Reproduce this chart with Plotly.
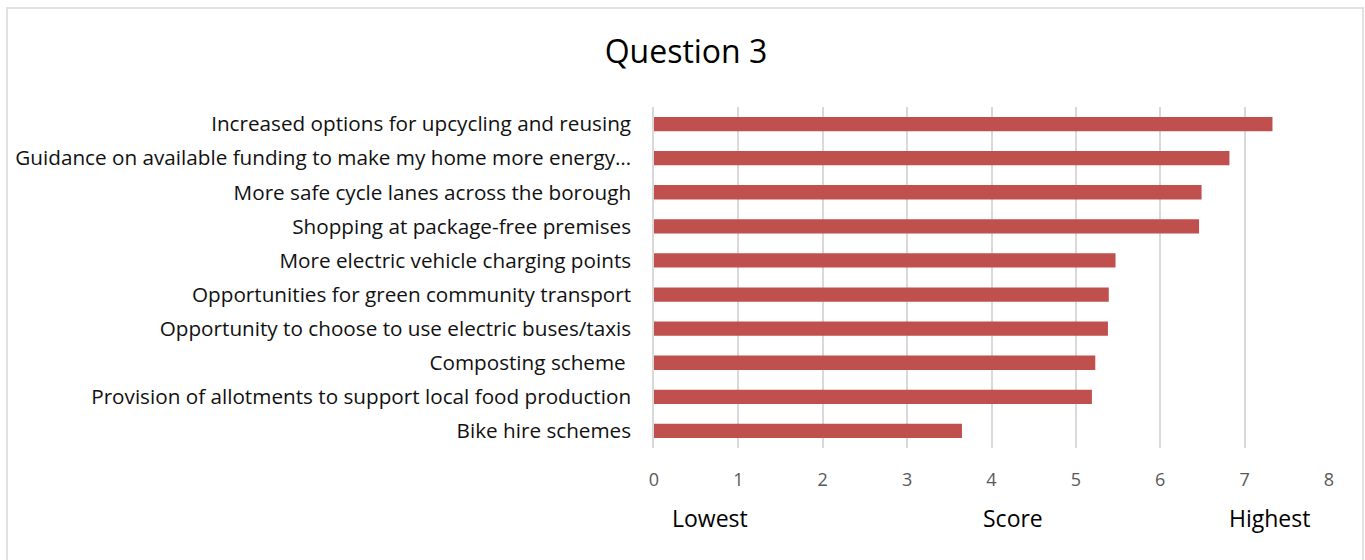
import plotly.graph_objects as go

categories = [
    "Increased options for upcycling and reusing",
    "Guidance on available funding to make my home more energy…",
    "More safe cycle lanes across the borough",
    "Shopping at package-free premises",
    "More electric vehicle charging points",
    "Opportunities for green community transport",
    "Opportunity to choose to use electric buses/taxis",
    "Composting scheme\u00a0",
    "Provision of allotments to support local food production",
    "Bike hire schemes",
]
scores = [7.33, 6.82, 6.49, 6.46, 5.47, 5.39, 5.38, 5.23, 5.19, 3.65]
x_ticks = [0, 1, 2, 3, 4, 5, 6, 7, 8]
axis_notes = ["Lowest", "Score", "Highest"]
axis_note_pos = [0.66, 4.25, 7.3]

FONT = "Open Sans"
W, H = 1365, 560
L, R, T, B = 654, 36, 107, 112
pw, ph = W - L - R, H - T - B

fig = go.Figure(go.Bar(
    x=scores, y=categories, orientation="h",
    marker=dict(color="#c0504d", line=dict(width=0)),
    width=0.42,
    hoverinfo="x+y",
))

fig.update_layout(
    width=W, height=H,
    margin=dict(l=L, r=R, t=T, b=B, autoexpand=False),
    paper_bgcolor="white", plot_bgcolor="white",
    showlegend=False,
    title=dict(text="Question 3", x=686 / W, xanchor="center", y=1 - 52 / H, yanchor="middle",
               font=dict(family=FONT, size=32, color="#000000")),
    xaxis=dict(range=[0, 8], tickvals=x_ticks, showgrid=True, gridcolor="#d9d9d9", gridwidth=1.5,
               zeroline=False, showline=False, ticks="",
               tickfont=dict(family=FONT, size=18, color="#595959"), ticklabelstandoff=19),
    yaxis=dict(autorange="reversed", showgrid=False, zeroline=False, showline=True,
               linecolor="#d9d9d9", linewidth=1.5, ticks="",
               tickfont=dict(family=FONT, size=20.7, color="#111111"), ticklabelstandoff=17),
    bargap=0.58,
)

for txt, xp in zip(axis_notes, axis_note_pos):
    fig.add_annotation(x=xp, xref="x", y=-(518 - (T + ph)) / ph, yref="paper",
                       text=txt, showarrow=False, xanchor="center", yanchor="middle",
                       font=dict(family=FONT, size=23, color="#000000"))

fig.add_shape(type="rect", xref="paper", yref="paper",
              x0=(7 - L) / pw, x1=(1363 - L) / pw,
              y0=-(H + 10 - (T + ph)) / ph, y1=((T + ph) - 8) / ph,
              line=dict(color="#d9d9d9", width=1.5), fillcolor="rgba(0,0,0,0)", layer="below")

fig.write_html("out.html", config={"displayModeBar": False},
               post_script="document.body.style.margin='0';document.body.style.overflow='hidden';")
